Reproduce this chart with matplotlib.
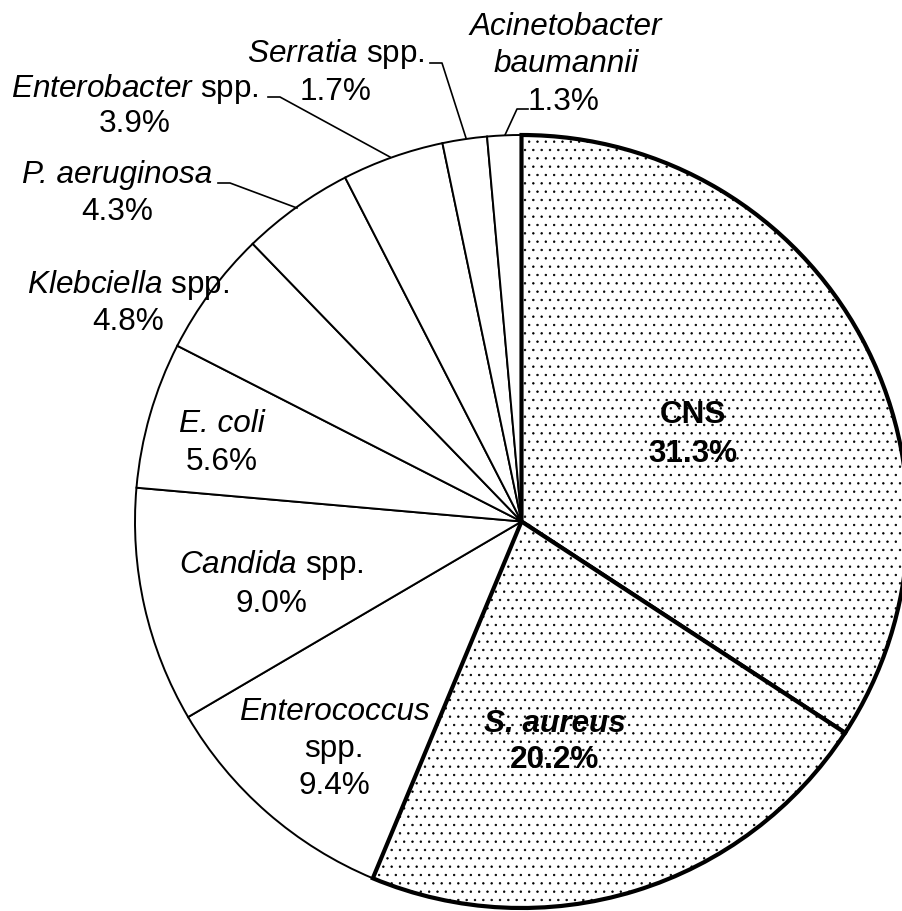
import numpy as np
import matplotlib
matplotlib.use('Agg')
import matplotlib.pyplot as plt

plt.rcParams['font.family'] = ['Liberation Sans', 'DejaVu Sans']
plt.rcParams['mathtext.fontset'] = 'custom'
plt.rcParams['mathtext.rm'] = 'Liberation Sans'
plt.rcParams['mathtext.it'] = 'Liberation Sans:italic'
plt.rcParams['mathtext.bf'] = 'Liberation Sans:bold'
plt.rcParams['hatch.linewidth'] = 0.5

#%% data
organisms = ['CNS', 'S. aureus', 'Enterococcus', 'Candida', 'E. coli',
             'Klebciella', 'P. aeruginosa', 'Enterobacter', 'Serratia',
             'Acinetobacter baumannii']
percent = [31.3, 20.2, 9.4, 9.0, 5.6, 4.8, 4.3, 3.9, 1.7, 1.3]
is_spp = [False, False, True, True, False, True, False, True, True, False]
highlight = [True, True, False, False, False, False, False, False, False, False]

#%% figure
W, H = 903, 911
cx, cy, R = 521.5, 521.5, 386.5

def px(x, y):
    # pixel position -> data coords of the pie axes
    return (x - cx) / R, (cy - y) / R

fig = plt.figure(figsize=(W / 100, H / 100), dpi=100)
ax = fig.add_axes([0, 0, 1, 1])

wedges, _ = ax.pie(percent, startangle=90, counterclock=False, radius=1,
                   wedgeprops=dict(facecolor='white', edgecolor='black', linewidth=1.4))
for w, hl in zip(wedges, highlight):
    if hl:
        w.set_hatch('..')
        w.set_linewidth(3.0)
        w.set_zorder(3)

ax.set_xlim(-cx / R, (W - cx) / R)
ax.set_ylim(-(H - cy) / R, cy / R)
ax.set_aspect('auto')
ax.axis('off')

def name_text(i):
    n = organisms[i]
    if is_spp[i]:
        return r'$\mathit{' + n + '}$ spp.'
    return n

fs = 22.7

# label positions (pixel centre x, baselines)
lab_pos = {
    0: (693, [423, 462]),
    1: (555, [732, 768]),
    2: (334, [720, 757, 794]),
    3: (271, [573, 612]),
    4: (222, [432, 470]),
    5: (128, [293, 330]),
    6: (117, [183, 220]),
    7: (135, [97, 132]),
    8: (336, [62, 100]),
    9: (566, [35, 72, 110]),
}

for i, (x, ys) in lab_pos.items():
    pct = '%.1f%%' % percent[i]
    if i in (0, 1):
        ax.text(*px(x, ys[0]), organisms[i], ha='center', va='baseline', fontsize=fs,
                fontweight='bold', style='italic' if i == 1 else 'normal', zorder=5)
        ax.text(*px(x, ys[1]), pct, ha='center', va='baseline', fontsize=fs,
                fontweight='bold', zorder=5)
    elif i == 2:
        ax.text(*px(x, ys[0]), organisms[i], ha='center', va='baseline', fontsize=fs,
                style='italic', zorder=5)
        ax.text(*px(x, ys[1]), 'spp.', ha='center', va='baseline', fontsize=fs, zorder=5)
        ax.text(*px(x, ys[2]), pct, ha='center', va='baseline', fontsize=fs, zorder=5)
    elif i == 9:
        first, second = organisms[i].split()
        ax.text(*px(x, ys[0]), first, ha='center', va='baseline', fontsize=fs,
                style='italic', zorder=5)
        ax.text(*px(x, ys[1]), second, ha='center', va='baseline', fontsize=fs,
                style='italic', zorder=5)
        ax.text(*px(x - 2, ys[2]), pct, ha='center', va='baseline', fontsize=fs, zorder=5)
    else:
        if is_spp[i]:
            ax.text(*px(x, ys[0]), name_text(i), ha='center', va='baseline', fontsize=fs, zorder=5)
        else:
            ax.text(*px(x, ys[0]), organisms[i], ha='center', va='baseline', fontsize=fs,
                    style='italic', zorder=5)
        ax.text(*px(x, ys[1]), pct, ha='center', va='baseline', fontsize=fs, zorder=5)

# leader lines for the small outer slices
leaders = [
    [(218, 183), (230, 183), (297, 208)],
    [(268, 97), (280, 97), (390, 157)],
    [(430, 63), (442, 63), (466, 138)],
    [(528, 109), (517, 109), (505, 135)],
]
for pts in leaders:
    xy = np.array([px(a, b) for a, b in pts])
    ax.plot(xy[:, 0], xy[:, 1], color='black', lw=1.2, zorder=4)

fig.savefig('out.png', dpi=100)
